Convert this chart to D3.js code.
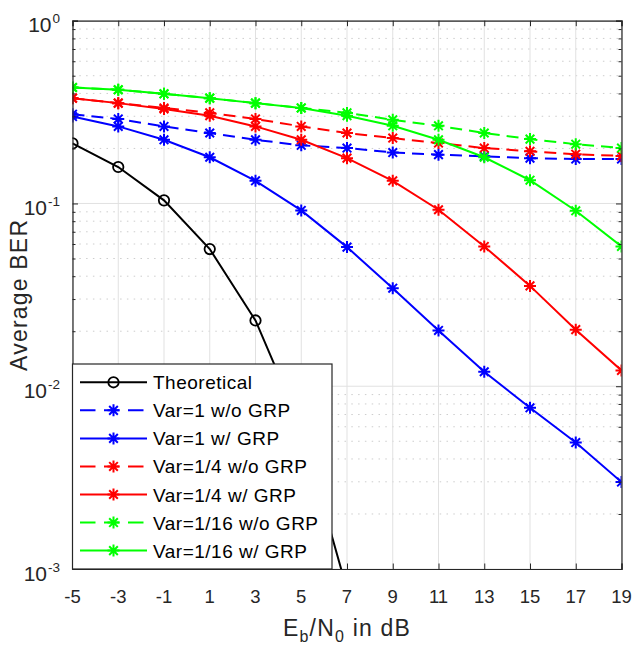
<!DOCTYPE html>
<html>
<head>
<meta charset="utf-8">
<script src="https://cdn.jsdelivr.net/npm/d3@7/dist/d3.min.js"></script>
<style>
  html, body { margin: 0; padding: 0; background: #ffffff; }
  svg { display: block; font-family: "Liberation Sans", Arial, Helvetica, sans-serif; }
</style>
</head>
<body>
<svg id="chart" width="633" height="649"></svg>
<script>
// Eb/N0 sweep (dB) shared by the simulated curves
const ebn0 = [-5, -3, -1, 1, 3, 5, 7, 9, 11, 13, 15, 17, 19];

// Theoretical BPSK curve (continues below the visible range)
const theoryX = [-5, -3, -1, 1, 3, 5, 7, 9];
const theoryBER = [0.2132, 0.1583, 0.1040, 0.0563, 0.0229, 0.00595, 0.00077, 0.000034];

// Simulated average BER per channel variance, with / without GRP
const var1NoGRP   = [0.308, 0.290, 0.264, 0.243, 0.223, 0.208, 0.201, 0.190, 0.185, 0.181, 0.177, 0.175, 0.175];
const var1GRP     = [0.299, 0.264, 0.223, 0.179, 0.133, 0.0916, 0.0577, 0.0344, 0.0202, 0.0120, 0.00762, 0.00492, 0.00299];
const var4NoGRP   = [0.377, 0.354, 0.333, 0.313, 0.290, 0.264, 0.243, 0.228, 0.214, 0.201, 0.193, 0.186, 0.182];
const var4GRP     = [0.377, 0.354, 0.329, 0.302, 0.264, 0.223, 0.177, 0.133, 0.0924, 0.0582, 0.0354, 0.0204, 0.0122];
const var16NoGRP  = [0.431, 0.419, 0.398, 0.377, 0.354, 0.333, 0.313, 0.287, 0.266, 0.243, 0.225, 0.211, 0.201];
const var16GRP    = [0.431, 0.419, 0.398, 0.377, 0.354, 0.333, 0.302, 0.266, 0.223, 0.179, 0.134, 0.0912, 0.0582];

const seriesNames = ["Theoretical", "Var=1 w/o GRP", "Var=1 w/ GRP", "Var=1/4 w/o GRP",
                     "Var=1/4 w/ GRP", "Var=1/16 w/o GRP", "Var=1/16 w/ GRP"];

// Tick labels
const xTicks = [-5, -3, -1, 1, 3, 5, 7, 9, 11, 13, 15, 17, 19];
const yDecades = [1e-3, 1e-2, 1e-1, 1];
const yExponents = ["-3", "-2", "-1", "0"];

// Layout
const L = 72.5, R = 621.5, T = 20.7, B = 569;
const axisColor = "#262626";

const svg = d3.select("#chart");
const x = d3.scaleLinear().domain([-5, 19]).range([L, R]);
const y = d3.scaleLog().domain([1e-3, 1]).range([B, T]);

const series = [
  { name: seriesNames[0], xs: theoryX, ys: theoryBER, color: "#000000", dash: null, marker: "circle" },
  { name: seriesNames[1], xs: ebn0, ys: var1NoGRP, color: "#0000ff", dash: "12,7", marker: "star" },
  { name: seriesNames[2], xs: ebn0, ys: var1GRP, color: "#0000ff", dash: null, marker: "star" },
  { name: seriesNames[3], xs: ebn0, ys: var4NoGRP, color: "#ff0000", dash: "12,7", marker: "star" },
  { name: seriesNames[4], xs: ebn0, ys: var4GRP, color: "#ff0000", dash: null, marker: "star" },
  { name: seriesNames[5], xs: ebn0, ys: var16NoGRP, color: "#00ff00", dash: "12,7", marker: "star" },
  { name: seriesNames[6], xs: ebn0, ys: var16GRP, color: "#00ff00", dash: null, marker: "star" }
];

// Clip to the axes area
svg.append("defs").append("clipPath").attr("id", "plotClip")
  .append("rect").attr("x", L).attr("y", T).attr("width", R - L).attr("height", B - T);

// Minor log grid (2..9 per decade), dotted
const minorVals = [];
for (let d = -3; d < 0; d++) for (let m = 2; m <= 9; m++) minorVals.push(m * Math.pow(10, d));

const grid = svg.append("g");
grid.selectAll("line.minor").data(minorVals).join("line")
  .attr("x1", L).attr("x2", R)
  .attr("y1", d => y(d)).attr("y2", d => y(d))
  .attr("stroke", "#cdcdcd").attr("stroke-width", 1)
  .attr("stroke-dasharray", "1.5,5.3");

// Major grid
grid.selectAll("line.vx").data(xTicks).join("line")
  .attr("x1", d => x(d)).attr("x2", d => x(d))
  .attr("y1", T).attr("y2", B)
  .attr("stroke", "#e1e1e1").attr("stroke-width", 1);
grid.selectAll("line.hy").data(yDecades).join("line")
  .attr("x1", L).attr("x2", R)
  .attr("y1", d => y(d)).attr("y2", d => y(d))
  .attr("stroke", "#e1e1e1").attr("stroke-width", 1);

// Marker drawing helper
function drawMarker(g, type, cx, cy, color) {
  if (type === "circle") {
    g.append("circle").attr("cx", cx).attr("cy", cy).attr("r", 5.2)
      .attr("fill", "none").attr("stroke", color).attr("stroke-width", 1.8);
  } else {
    const r = 6, d = r * 0.72;
    const p = `M${cx - r},${cy}L${cx + r},${cy}M${cx},${cy - r}L${cx},${cy + r}` +
              `M${cx - d},${cy - d}L${cx + d},${cy + d}M${cx - d},${cy + d}L${cx + d},${cy - d}`;
    g.append("path").attr("d", p).attr("stroke", color).attr("stroke-width", 2).attr("fill", "none");
  }
}

// Curves
const plot = svg.append("g").attr("clip-path", "url(#plotClip)");
const line = d3.line().x(d => x(d[0])).y(d => y(d[1]));
series.forEach(s => {
  const pts = s.xs.map((v, i) => [v, s.ys[i]]);
  plot.append("path").datum(pts).attr("d", line)
    .attr("fill", "none").attr("stroke", s.color).attr("stroke-width", 2)
    .attr("stroke-dasharray", s.dash);
  const mg = plot.append("g");
  pts.forEach(p => drawMarker(mg, s.marker, x(p[0]), y(p[1]), s.color));
});

// Axes box with inward ticks
const axes = svg.append("g");
const xAxisB = d3.axisBottom(x).tickValues(xTicks).tickSize(-5.5).tickFormat("");
const xAxisT = d3.axisTop(x).tickValues(xTicks).tickSize(-5.5).tickFormat("");
axes.append("g").attr("transform", `translate(0,${B})`).call(xAxisB);
axes.append("g").attr("transform", `translate(0,${T})`).call(xAxisT);
const yAxisL = d3.axisLeft(y).tickValues(yDecades).tickSize(-5.5).tickFormat("");
const yAxisR = d3.axisRight(y).tickValues(yDecades).tickSize(-5.5).tickFormat("");
const yMinL = d3.axisLeft(y).tickValues(minorVals).tickSize(-3).tickFormat("");
const yMinR = d3.axisRight(y).tickValues(minorVals).tickSize(-3).tickFormat("");
axes.append("g").attr("transform", `translate(${L},0)`).call(yAxisL);
axes.append("g").attr("transform", `translate(${R},0)`).call(yAxisR);
axes.append("g").attr("transform", `translate(${L},0)`).call(yMinL).select(".domain").remove();
axes.append("g").attr("transform", `translate(${R},0)`).call(yMinR).select(".domain").remove();
axes.selectAll(".domain").attr("stroke", axisColor).attr("stroke-width", 1.2);
axes.selectAll(".tick line").attr("stroke", axisColor).attr("stroke-width", 1);

// X tick labels
svg.append("g").selectAll("text").data(xTicks).join("text")
  .attr("x", d => x(d)).attr("y", 603)
  .attr("text-anchor", "middle").attr("font-size", 18.5).attr("fill", axisColor)
  .text(d => d);

// Y tick labels: 10 with superscript exponent
const yl = svg.append("g");
yDecades.forEach((v, i) => {
  const t = yl.append("text").attr("x", 60).attr("y", y(v) + 11.5)
    .attr("text-anchor", "end").attr("font-size", 21).attr("fill", axisColor);
  t.append("tspan").text("10");
  t.append("tspan").attr("font-size", 13.5).attr("dy", -9).attr("dx", 1).text(yExponents[i]);
});

// Axis titles
const xl = svg.append("text").attr("x", (L + R) / 2).attr("y", 636)
  .attr("text-anchor", "middle").attr("font-size", 23).attr("letter-spacing", 1.2)
  .attr("fill", axisColor);
xl.append("tspan").text("E");
xl.append("tspan").attr("font-size", 16).attr("dy", 6).text("b");
xl.append("tspan").attr("dy", -6).text("/N");
xl.append("tspan").attr("font-size", 16).attr("dy", 6).text("0");
xl.append("tspan").attr("dy", -6).text(" in dB");

svg.append("text")
  .attr("transform", `translate(27,${(T + B) / 2}) rotate(-90)`)
  .attr("text-anchor", "middle").attr("font-size", 23).attr("letter-spacing", 1.2)
  .attr("fill", axisColor).text("Average BER");

// Legend
const lg = svg.append("g");
const lgX0 = L, lgX1 = 332, lgY0 = 364, lgY1 = B;
lg.append("rect").attr("x", lgX0).attr("y", lgY0).attr("width", lgX1 - lgX0).attr("height", lgY1 - lgY0)
  .attr("fill", "#ffffff").attr("stroke", axisColor).attr("stroke-width", 1.2);
series.forEach((s, i) => {
  const cy = 382.3 + i * 28.05;
  lg.append("line").attr("x1", 80).attr("x2", 147).attr("y1", cy).attr("y2", cy)
    .attr("stroke", s.color).attr("stroke-width", 2)
    .attr("stroke-dasharray", s.dash ? "15.5,8.5" : null);
  drawMarker(lg, s.marker, 113.5, cy, s.color);
  lg.append("text").attr("x", 153).attr("y", cy + 7)
    .attr("font-size", 19).attr("letter-spacing", 0.5).attr("fill", "#000000").text(s.name);
});
</script>
</body>
</html>
